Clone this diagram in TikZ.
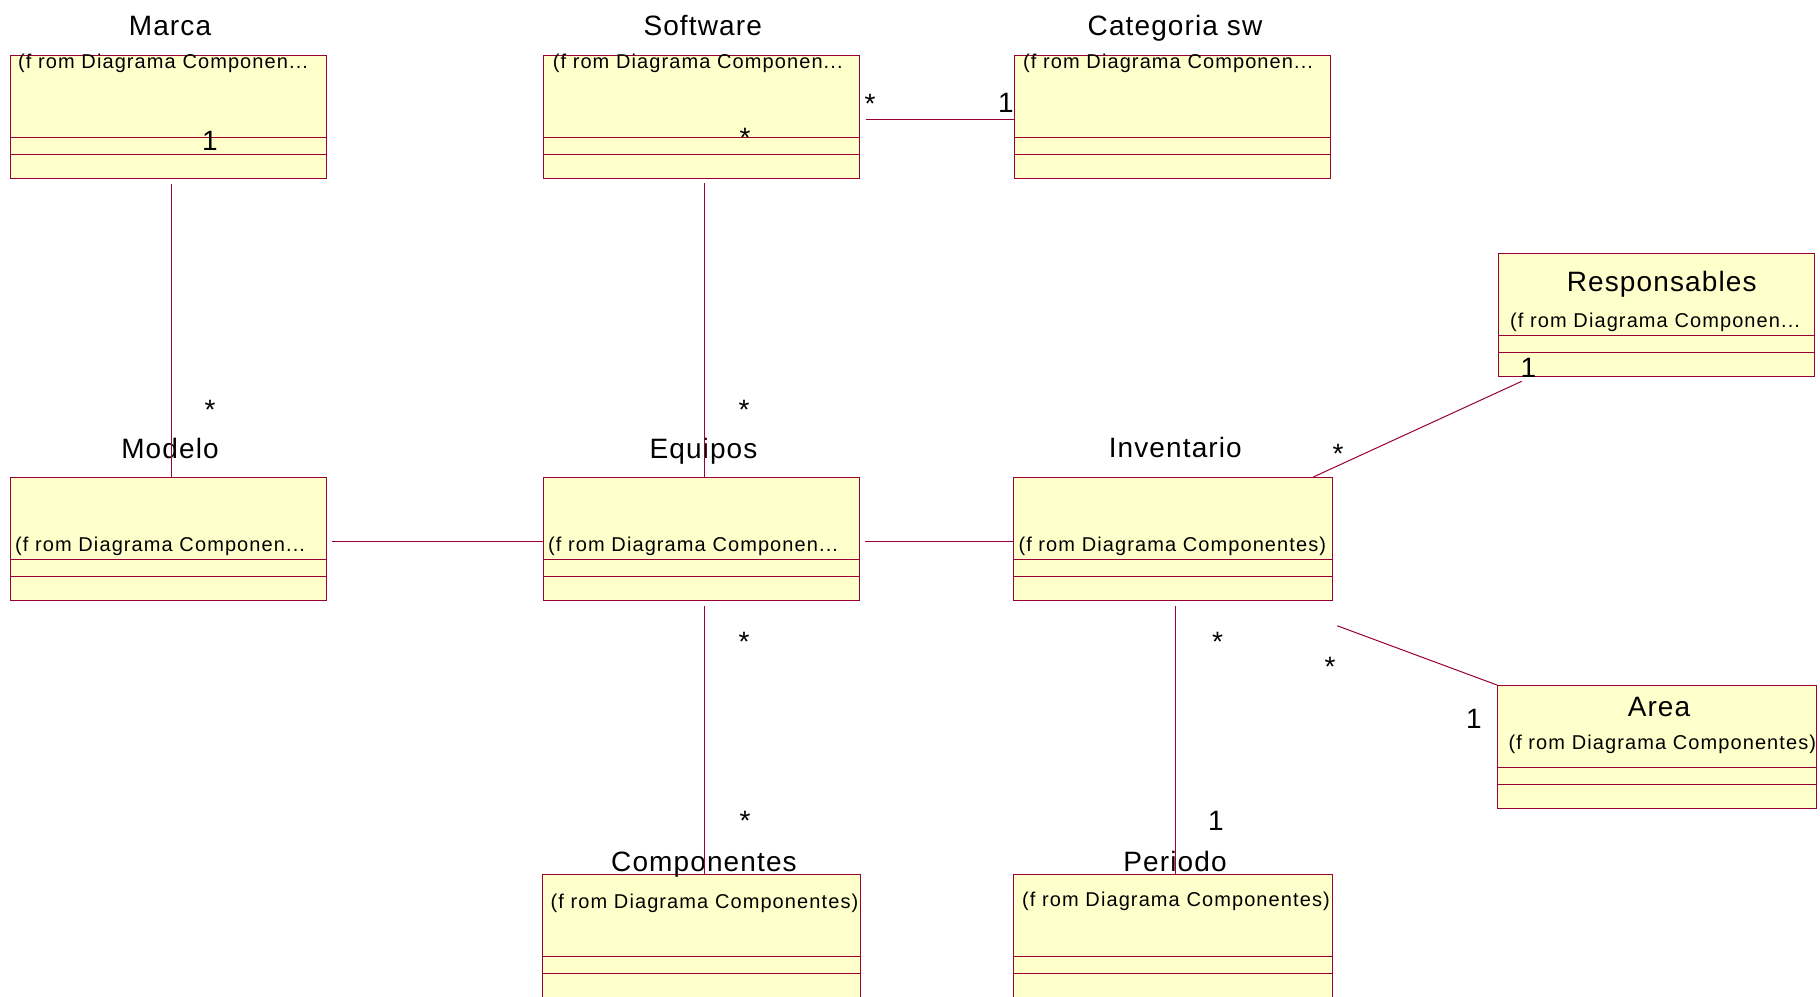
\documentclass[tikz,border=0pt]{standalone}
\usepackage{fontspec}
\setmainfont{Liberation Sans}
\newfontfamily\fromfont{Liberation Sans}[LetterSpace=5.5]
\newfontfamily\titlefont{Liberation Sans}[LetterSpace=4.0]
\usetikzlibrary{calc}
\definecolor{roseline}{RGB}{153,0,51}
\definecolor{rosefill}{RGB}{255,255,204}

\tikzset{
  cls/.style={draw=roseline, fill=rosefill, line width=1.3pt, inner sep=0pt,
              minimum width=#1, minimum height=123pt, anchor=north west},
  cls/.default=316pt,
  clstitle/.style={font=\titlefont\fontsize{28}{30}\selectfont, inner sep=0pt, anchor=base},
  fromtext/.style={font=\fromfont\fontsize{20}{22}\selectfont, inner sep=0pt, anchor=base west},
  mult/.style={font=\fontsize{28}{30}\selectfont, inner sep=0pt, anchor=base},
  assoc/.style={draw=roseline, line width=1pt},
  compline/.style={draw=roseline, line width=0.9pt},
}

\begin{document}
\begin{tikzpicture}[x=1pt, y=-1pt]
\useasboundingbox (0,0) rectangle (1820,996);

% class boxes
\node[cls]        (marca)        at (10,55)   {};
\node[cls]        (software)     at (543,55)  {};
\node[cls]        (categoria)    at (1014,55) {};
\node[cls]        (responsables) at (1498,253) {};
\node[cls]        (modelo)       at (10,477)  {};
\node[cls]        (equipos)      at (543,477) {};
\node[cls=319pt]  (inventario)   at (1013,477) {};
\node[cls=319pt]  (area)         at (1497,685) {};
\node[cls=318pt]  (componentes)  at (542,874) {};
\node[cls=319pt]  (periodo)      at (1013,874) {};

% attribute and operation compartments
\foreach \c in {marca,software,categoria,responsables,modelo,equipos,inventario,area,componentes,periodo}{
  \draw[compline] ($(\c.north west)+(0,82)$) -- ($(\c.north east)+(0,82)$);
  \draw[compline] ($(\c.north west)+(0,99.5)$) -- ($(\c.north east)+(0,99.5)$);
}

% class names
\node[clstitle] (tmarca)        at (170,35)     {Marca};
\node[clstitle] (tsoftware)     at (702.7,35)   {Software};
\node[clstitle] (tcategoria)    at (1175,35)    {Categoria sw};
\node[clstitle] (tresponsables) at (1661.7,291.7) {Responsables};
\node[clstitle] (tmodelo)       at (170,458.3)  {Modelo};
\node[clstitle] (tequipos)      at (703.5,458.3) {Equipos};
\node[clstitle] (tinventario)   at (1175.3,457) {Inventario};
\node[clstitle] (tarea)         at (1659,716.7) {Area};
\node[clstitle] (tcomponentes)  at (704,871.7)  {Componentes};
\node[clstitle] (tperiodo)      at (1175,871.7) {Periodo};

% package notes
\node[fromtext] (fmarca)        at (18,68)      {(f rom Diagrama Componen...};
\node[fromtext] (fsoftware)     at (552.6,68)   {(f rom Diagrama Componen...};
\node[fromtext] (fcategoria)    at (1023,68)    {(f rom Diagrama Componen...};
\node[fromtext] (fresponsables) at (1510,327.3) {(f rom Diagrama Componen...};
\node[fromtext] (fmodelo)       at (15,551.7)   {(f rom Diagrama Componen...};
\node[fromtext] (fequipos)      at (548,551.7)  {(f rom Diagrama Componen...};
\node[fromtext] (finventario)   at (1018.3,551.7) {(f rom Diagrama Componentes)};
\node[fromtext] (farea)         at (1508.3,749.3) {(f rom Diagrama Componentes)};
\node[fromtext] (fcomponentes)  at (550.5,908.3) {(f rom Diagrama Componentes)};
\node[fromtext] (fperiodo)      at (1022,906.7) {(f rom Diagrama Componentes)};

% associations
\draw[assoc] ($(marca.south)+(2.7,5)$)       -- ($(modelo.north)+(2.7,0)$);
\draw[assoc] ($(software.south)+(2.5,4)$)    -- ($(equipos.north)+(2.5,0)$);
\draw[assoc] ($(software.east)+(6,2)$)       -- ($(categoria.west)+(0,2)$);
\draw[assoc] ($(modelo.east)+(5,2)$)         -- ($(equipos.west)+(0,2)$);
\draw[assoc] ($(equipos.east)+(5,2)$)        -- ($(inventario.west)+(0,2)$);
\draw[assoc] ($(equipos.south)+(2.5,5)$)     -- ($(componentes.north)+(2.5,0)$);
\draw[assoc] ($(inventario.south)+(2.5,5)$)  -- ($(periodo.north)+(2.5,0)$);
\draw[assoc] ($(inventario.north east)+(-20,0)$) -- ($(responsables.south west)+(23.7,4)$);
\draw[assoc] ($(inventario.south east)+(4,24.5)$) -- (area.north west);

% multiplicities
\node[mult] (m1)  at (210,150)    {1};
\node[mult] (m2)  at (210,419)    {*};
\node[mult] (m3)  at (745,147)    {*};
\node[mult] (m4)  at (744,419)    {*};
\node[mult] (m5)  at (870,113)    {*};
\node[mult] (m6)  at (1006,112)   {1};
\node[mult] (m7)  at (744,651)    {*};
\node[mult] (m8)  at (745,830)    {*};
\node[mult] (m9)  at (1217.6,651) {*};
\node[mult] (m10) at (1216,830)   {1};
\node[mult] (m11) at (1338,463)   {*};
\node[mult] (m12) at (1528.3,377) {1};
\node[mult] (m13) at (1330,676)   {*};
\node[mult] (m14) at (1474,728)   {1};
\end{tikzpicture}
\end{document}
